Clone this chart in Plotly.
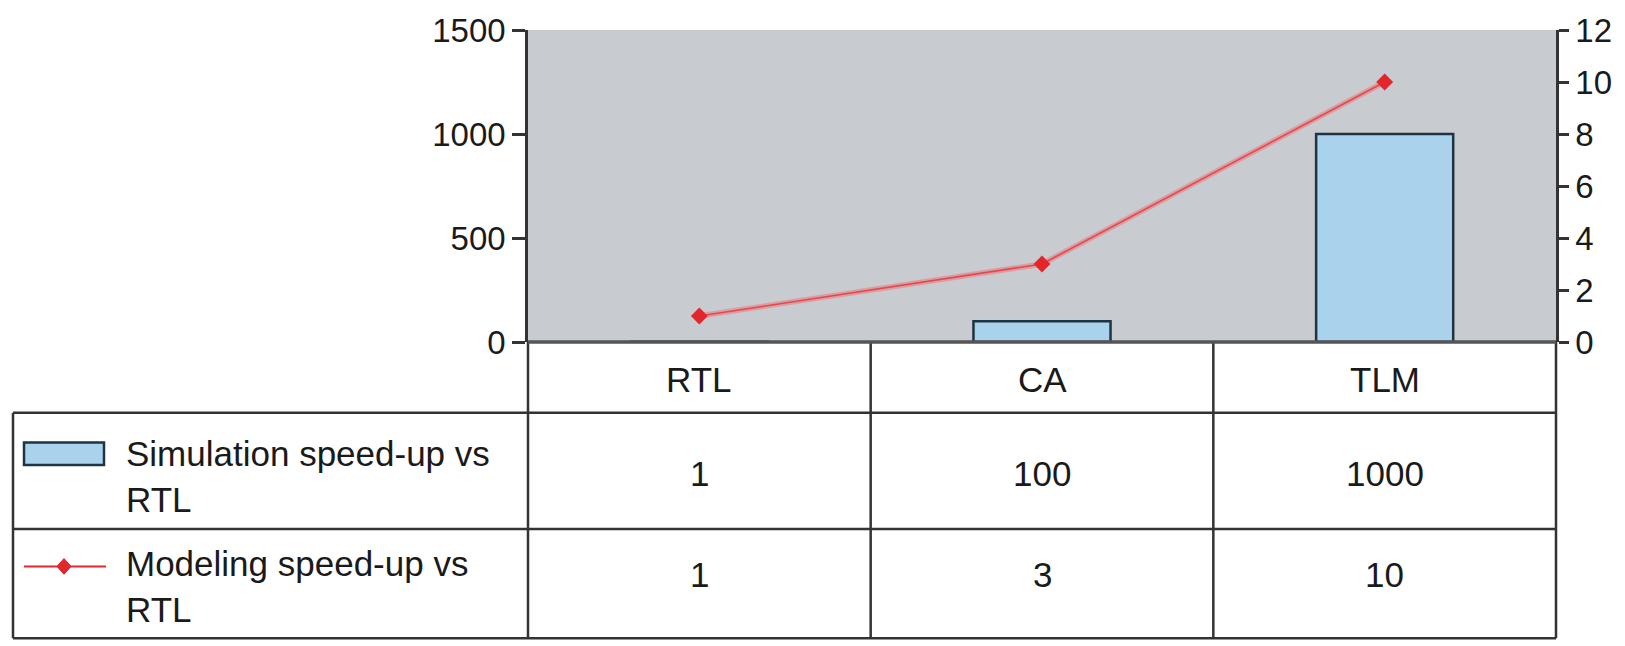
import plotly.graph_objects as go

# Categories and series values
categories = ["RTL", "CA", "TLM"]
sim_speedup = [1, 100, 1000]
model_speedup = [1, 3, 10]
sim_label = "Simulation speed-up vs<br>RTL"
model_label = "Modeling speed-up vs<br>RTL"
left_ticks = [0, 500, 1000, 1500]
right_ticks = [0, 2, 4, 6, 8, 10, 12]

FONT = "Liberation Sans, Arial, Helvetica, sans-serif"
TXT = "#1a1a1a"
LINE = "#333333"
BAR_FILL = "#a9d3ec"
BAR_EDGE = "#1e3442"
RED = "#e3262b"

W, H = 1625, 646
L, R, T, B = 528, 69, 25, 304
plot_w = W - L - R
plot_h = H - T - B


def py(px_y):
    """Convert a pixel row to paper y."""
    return (H - B - px_y) / plot_h


def px(px_x):
    """Convert a pixel column to paper x."""
    return (px_x - L) / plot_w


fig = go.Figure()

fig.add_trace(go.Bar(
    x=categories, y=sim_speedup, width=0.4,
    marker=dict(color=BAR_FILL, line=dict(color=BAR_EDGE, width=2.5)),
    showlegend=False, yaxis="y",
))

# soft halo under the red line
fig.add_trace(go.Scatter(
    x=categories, y=model_speedup, mode="lines",
    line=dict(color="rgba(235,120,125,0.55)", width=5.5),
    showlegend=False, hoverinfo="skip", yaxis="y2",
))
fig.add_trace(go.Scatter(
    x=categories, y=model_speedup, mode="lines+markers",
    line=dict(color="#e4474c", width=1.6),
    marker=dict(symbol="diamond", size=13, color=RED),
    showlegend=False, yaxis="y2",
))

shapes = []
lw = 2.5
row_lines = [414, 532, 643]
for yy in row_lines:
    shapes.append(dict(type="line", xref="paper", yref="paper",
                       x0=px(13), x1=1, y0=py(yy), y1=py(yy),
                       line=dict(color=LINE, width=lw)))
# left table border
shapes.append(dict(type="line", xref="paper", yref="paper",
                   x0=px(13), x1=px(13), y0=py(414), y1=py(643),
                   line=dict(color=LINE, width=lw)))
# column separators down through the table
for xv in [0, 1]:
    shapes.append(dict(type="line", xref="x", yref="paper",
                       x0=xv + 0.5, x1=xv + 0.5, y0=0, y1=py(643),
                       line=dict(color=LINE, width=lw)))
for xp in [0, 1]:
    shapes.append(dict(type="line", xref="paper", yref="paper",
                       x0=xp, x1=xp, y0=0, y1=py(643),
                       line=dict(color=LINE, width=lw)))
# zero line
shapes.append(dict(type="line", xref="paper", yref="paper",
                   x0=0, x1=1, y0=0, y1=0,
                   line=dict(color="#555555", width=3.5)))

# legend swatches inside the table
shapes.append(dict(type="rect", xref="paper", yref="paper",
                   x0=px(24), x1=px(104), y0=py(467), y1=py(444),
                   fillcolor=BAR_FILL, line=dict(color=BAR_EDGE, width=2.5)))
ly = py(570)
shapes.append(dict(type="line", xref="paper", yref="paper",
                   x0=px(24), x1=px(106), y0=ly, y1=ly,
                   line=dict(color=RED, width=2)))
cx, cy, dx, dy = px(64), ly, 7 / plot_w, 8 / plot_h
shapes.append(dict(type="path", xref="paper", yref="paper",
                   path=f"M {cx-dx},{cy} L {cx},{cy+dy} L {cx+dx},{cy} L {cx},{cy-dy} Z",
                   fillcolor=RED, line=dict(color=RED, width=1)))

annotations = []
cell_font = dict(size=35, color=TXT, family=FONT)
for i, c in enumerate(categories):
    annotations.append(dict(x=c, y=py(380), xref="x", yref="paper", text=c,
                            yanchor="middle", showarrow=False, font=cell_font))
    annotations.append(dict(x=c, y=py(476), xref="x", yref="paper", text=str(sim_speedup[i]),
                            yanchor="middle", showarrow=False, font=cell_font))
    annotations.append(dict(x=c, y=py(578), xref="x", yref="paper", text=str(model_speedup[i]),
                            yanchor="middle", showarrow=False, font=cell_font))
for label, yc in [(sim_label, 479), (model_label, 590)]:
    annotations.append(dict(x=px(124), y=py(yc), xref="paper", yref="paper", text=label,
                            xanchor="left", yanchor="middle", align="left", showarrow=False,
                            font=cell_font))

fig.update_layout(
    width=W, height=H,
    margin=dict(l=L, r=R, t=T, b=B, pad=0),
    paper_bgcolor="white",
    plot_bgcolor="#c8cbcf",
    font=dict(family=FONT, size=32, color=TXT),
    xaxis=dict(range=[-0.5, 2.5], showticklabels=False, ticks="",
               showgrid=False, zeroline=False, showline=False),
    yaxis=dict(range=[0, 1500], tickvals=left_ticks, showgrid=False, zeroline=False,
               showline=True, linecolor=LINE, linewidth=2.5,
               ticks="outside", ticklen=13, tickwidth=2.5, tickcolor=LINE,
               tickfont=dict(size=33, color=TXT, family=FONT)),
    yaxis2=dict(range=[0, 12], tickvals=right_ticks, overlaying="y", side="right",
                showgrid=False, zeroline=False,
                showline=True, linecolor=LINE, linewidth=2.5,
                ticks="outside", ticklen=10, tickwidth=2.5, tickcolor=LINE,
                tickfont=dict(size=33, color=TXT, family=FONT)),
    shapes=shapes,
    annotations=annotations,
)

fig.write_html("out.html", config={"displayModeBar": False})
